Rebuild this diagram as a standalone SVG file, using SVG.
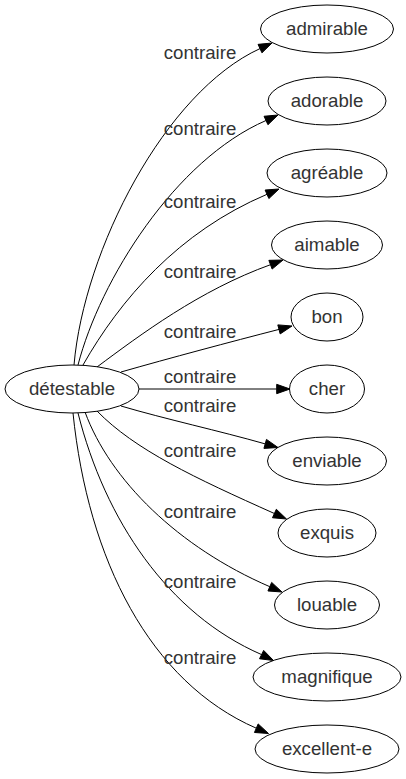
<svg xmlns="http://www.w3.org/2000/svg" width="406" height="779" viewBox="0 0 406 779">
<style>
.n ellipse{fill:none;stroke:#000;stroke-width:1}
text{font-family:"Liberation Sans",Arial,sans-serif;font-size:18.67px;fill:#333;text-anchor:middle}
.e path{fill:none;stroke:#000;stroke-width:1}
.e polygon{fill:#000;stroke:#000;stroke-width:1}
</style>
<rect width="406" height="779" fill="#fff"/>
<g id="edges" class="e">
<path d="M74,365 C84,250 165,92 260,48.6"/><polygon points="272,43 261.95,52.84 258.05,44.36"/>
<path d="M78,365 C100,280 175,160 266,120.5"/><polygon points="278,115 267.95,124.74 264.05,116.26"/>
<path d="M83,365 C120,300 178,232 267,194.3"/><polygon points="279,189 268.89,198.57 265.11,190.03"/>
<path d="M97,367 C140,335 200,290 270.5,264.7"/><polygon points="283,260 272.14,269.07 268.86,260.33"/>
<path d="M121,372 C170,358 230,342 279,329.4"/><polygon points="292,326 280.18,333.92 277.82,324.88"/>
<path d="M139,389 L276.7,389"/><polygon points="290,389 276.7,393.67 276.7,384.33"/>
<path d="M121,406 C165,419 220,431 265.2,443.9"/><polygon points="278,447.5 263.93,448.39 266.47,439.41"/>
<path d="M97,411 C135,450 195,478 274.4,513.5"/><polygon points="286.5,519 272.47,517.75 276.33,509.25"/>
<path d="M85,412 C110,480 178,547 269.8,586.7"/><polygon points="282,592 267.94,590.98 271.66,582.42"/>
<path d="M78,413 C105,520 168,614 261.6,654.6"/><polygon points="273.5,660.5 259.53,658.78 263.67,650.42"/>
<path d="M73,413 C88,560 150,682 256.3,728.2"/><polygon points="268.5,733.5 254.44,732.48 258.16,723.92"/>
<text x="200" y="59">contraire</text>
<text x="200" y="135">contraire</text>
<text x="200" y="208">contraire</text>
<text x="200" y="278">contraire</text>
<text x="200" y="338">contraire</text>
<text x="200" y="383">contraire</text>
<text x="200" y="412">contraire</text>
<text x="200" y="457">contraire</text>
<text x="200" y="518">contraire</text>
<text x="200" y="588">contraire</text>
<text x="200" y="664">contraire</text>
</g>
<g id="detestable" class="n"><ellipse cx="72" cy="389" rx="67" ry="24"/><text x="72" y="395">détestable</text></g>
<g id="admirable" class="n"><ellipse cx="327" cy="29" rx="66.5" ry="24"/><text x="327" y="35">admirable</text></g>
<g id="adorable" class="n"><ellipse cx="327" cy="101" rx="59" ry="24"/><text x="327" y="107">adorable</text></g>
<g id="agreable" class="n"><ellipse cx="327" cy="173" rx="60" ry="24"/><text x="327" y="179">agréable</text></g>
<g id="aimable" class="n"><ellipse cx="327" cy="245" rx="55.5" ry="24"/><text x="327" y="251">aimable</text></g>
<g id="bon" class="n"><ellipse cx="327" cy="317" rx="36" ry="24"/><text x="327" y="323">bon</text></g>
<g id="cher" class="n"><ellipse cx="327" cy="389" rx="37.5" ry="24"/><text x="327" y="395">cher</text></g>
<g id="enviable" class="n"><ellipse cx="327" cy="461" rx="59.5" ry="24"/><text x="327" y="467">enviable</text></g>
<g id="exquis" class="n"><ellipse cx="327" cy="533" rx="49" ry="24"/><text x="327" y="539">exquis</text></g>
<g id="louable" class="n"><ellipse cx="327" cy="605" rx="52.5" ry="24"/><text x="327" y="611">louable</text></g>
<g id="magnifique" class="n"><ellipse cx="327" cy="677" rx="74" ry="24"/><text x="327" y="683">magnifique</text></g>
<g id="excellent-e" class="n"><ellipse cx="327" cy="749" rx="72" ry="24"/><text x="327" y="755">excellent-e</text></g>
</svg>
